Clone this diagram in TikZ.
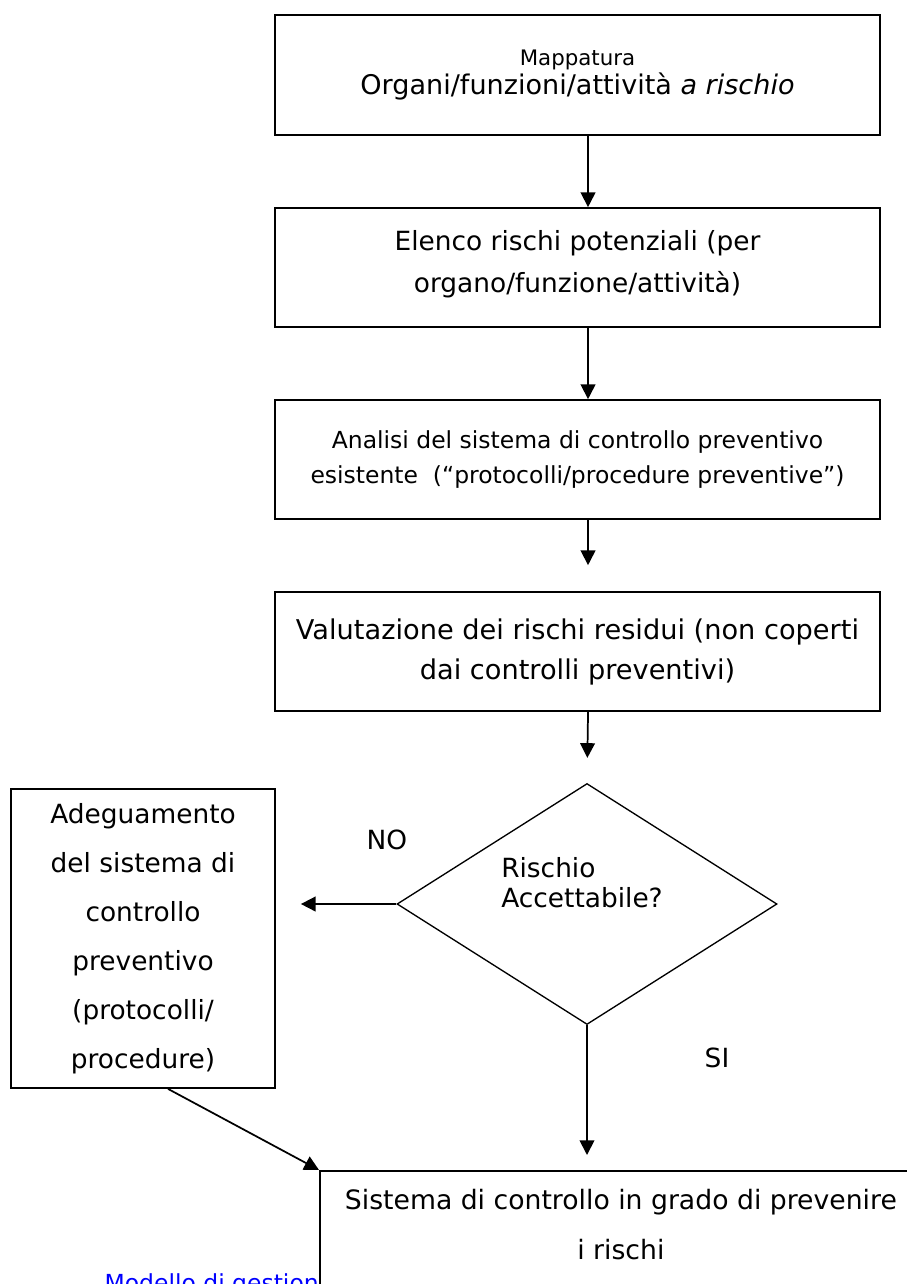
\documentclass[tikz,border=0pt]{standalone}
\usepackage{fontspec}
\setmainfont{DejaVu Sans}
\usepackage{xcolor}
\usetikzlibrary{shapes.geometric,   % losange
           arrows.meta,             % pointes de fleches
           positioning}
\definecolor{lien}{RGB}{0,0,255}
\tikzset{
  boite/.style={draw,line width=1.3pt,align=center,inner sep=0pt},
  fleche/.style={line width=1.3pt,-{Triangle[length=11pt,width=11pt]}},
}

\begin{document}
\begin{tikzpicture}[x=0.75pt,y=-0.75pt]
\useasboundingbox (0,0) rectangle (906,1284);
% colonne principale
\node[boite,minimum width=453.75pt,minimum height=90pt,font=\fontsize{20.3}{22}\selectfont] (mappa) at (577.5,75)
  {{\fontsize{16}{16}\selectfont Mappatura}\\Organi/funzioni/attività \textit{a rischio}};
\node[boite,minimum width=453.75pt,minimum height=89.25pt,font=\fontsize{19.8}{32}\selectfont] (elenco) at (577.5,267.5)
  {Elenco rischi potenziali (per\\organo/funzione/attività)\\[-23pt]};
\node[boite,minimum width=453.75pt,minimum height=89.25pt,font=\fontsize{17.6}{26}\selectfont] (analisi) at (577.5,459.5)
  {Analisi del sistema di controllo preventivo\\esistente\ \ (“protocolli/procedure preventive”)};
\node[boite,minimum width=453.75pt,minimum height=89.25pt,font=\fontsize{20.4}{30}\selectfont] (valuta) at (577.5,651.5)
  {Valutazione dei rischi residui (non coperti\\dai controlli preventivi)};
% decisione
\node[draw,diamond,line width=1pt,inner sep=0pt,aspect=1.577,minimum width=285pt,minimum height=180.75pt,
  label={[font=\fontsize{19.8}{22.5}\selectfont,align=left,xshift=-3.75pt,yshift=15.75pt]center:Rischio\\Accettabile?}] (rischio) at (587,904) {};
\node[font=\fontsize{19.8}{21}\selectfont] (no) at (387,840) {NO};
\node[font=\fontsize{19.8}{21}\selectfont] (si) at (717,1058) {SI};
% adeguamento
\node[boite,minimum width=198pt,minimum height=224.25pt,font=\fontsize{19.8}{36.75}\selectfont] (adegua) at (143,938.5)
  {Adeguamento\\del sistema di\\controllo\\preventivo\\(protocolli/\\procedure)};
% sistema finale
\node[text=lien,font=\fontsize{17.6}{18}\selectfont,anchor=base east,inner sep=0pt] (modello) at (319,1291) {Modello di gestion};
\node[boite,fill=white,anchor=north west,minimum width=451.5pt,minimum height=150pt] (sistema) at (319,1170) {};
\node[align=center,inner sep=0pt,font=\fontsize{20}{37.5}\selectfont,below=14pt of sistema.north] (sistematxt)
  {Sistema di controllo in grado di prevenire\\i rischi};
% fleches
\draw[fleche] ([xshift=7.9pt]mappa.south) -- ([xshift=7.9pt]elenco.north);
\draw[fleche] ([xshift=7.9pt]elenco.south) -- ([xshift=7.9pt]analisi.north);
\draw[fleche,shorten >=19.5pt] ([xshift=7.9pt]analisi.south) -- ([xshift=7.9pt]valuta.north);
\draw[fleche,shorten >=18.75pt] ([xshift=7.9pt]valuta.south) -- (rischio.north);
\draw[fleche,shorten >=18.75pt] (rischio.west) -- (rischio.west -| adegua.east);
\draw[fleche,shorten >=11.25pt] (rischio.south) -- (rischio.south |- sistema.north);
\draw[fleche] ([xshift=18.75pt]adegua.south) -- (sistema.north west);
\end{tikzpicture}
\end{document}
